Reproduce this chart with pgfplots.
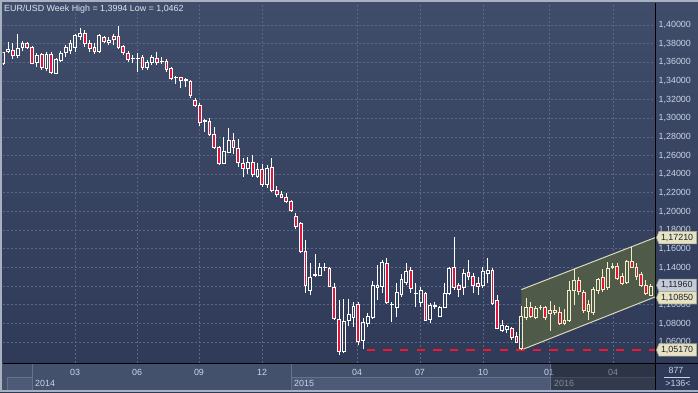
\documentclass[border=0pt]{standalone}
\usepackage{pgfplots}
\pgfplotsset{compat=1.18}
\usepackage{pgfplotstable}
\usepackage{fontspec}
\setmainfont{Liberation Sans}

\definecolor{bgtop}{HTML}{404D6A}
\definecolor{bgbot}{HTML}{2D3957}
\definecolor{gridc}{HTML}{5A6884}
\definecolor{candred}{HTML}{E0143C}
\definecolor{lowred}{HTML}{F01830}
\definecolor{cream}{HTML}{F2EEC8}
\definecolor{chanfill}{HTML}{4F5A48}
\definecolor{chanline}{HTML}{DCD8BC}
\definecolor{lbl}{HTML}{C9D4E8}
\definecolor{barbg}{HTML}{44516D}
\definecolor{barhi}{HTML}{4D5A77}
\definecolor{sepc}{HTML}{66728C}
\definecolor{framec}{HTML}{A9B1C0}
\definecolor{tagcream}{HTML}{E6E2C2}
\definecolor{taggrey}{HTML}{C4CAD6}
\definecolor{tagtext}{HTML}{1E2230}
\definecolor{titlec}{HTML}{DDE4F0}
\definecolor{darkpanel}{HTML}{2E3A57}

% weekly candles: k open high low close
\pgfplotstableread{
k o h l c
0 1.3590 1.3715 1.3575 1.3703
1 1.3721 1.3821 1.3697 1.3743
2 1.3729 1.3804 1.3636 1.3678
3 1.3678 1.3904 1.3643 1.3750
4 1.3757 1.3829 1.3721 1.3800
5 1.3800 1.3822 1.3743 1.3757
6 1.3761 1.3778 1.3579 1.3590
7 1.3597 1.3703 1.3553 1.3678
8 1.3686 1.3697 1.3518 1.3543
9 1.3536 1.3707 1.3507 1.3686
10 1.3686 1.3714 1.3472 1.3489
11 1.3486 1.3650 1.3472 1.3636
12 1.3625 1.3721 1.3607 1.3697
13 1.3707 1.3786 1.3660 1.3757
14 1.3732 1.3839 1.3686 1.3804
15 1.3757 1.3900 1.3714 1.3885
16 1.3875 1.3964 1.3839 1.3911
17 1.3911 1.3946 1.3768 1.3800
18 1.3804 1.3839 1.3714 1.3750
19 1.3761 1.3804 1.3686 1.3714
20 1.3714 1.3900 1.3697 1.3885
21 1.3864 1.3885 1.3804 1.3821
22 1.3814 1.3875 1.3786 1.3839
23 1.3875 1.3900 1.3786 1.3850
24 1.3875 1.3994 1.3750 1.3757
25 1.3768 1.3786 1.3678 1.3703
26 1.3697 1.3721 1.3607 1.3632
27 1.3640 1.3678 1.3590 1.3646
28 1.3638 1.3697 1.3500 1.3646
29 1.3654 1.3678 1.3518 1.3547
30 1.3547 1.3625 1.3518 1.3600
31 1.3600 1.3678 1.3571 1.3654
32 1.3643 1.3707 1.3571 1.3600
33 1.3610 1.3654 1.3582 1.3604
34 1.3607 1.3636 1.3493 1.3525
35 1.3536 1.3553 1.3411 1.3429
36 1.3436 1.3450 1.3368 1.3440
37 1.3436 1.3446 1.3328 1.3411
38 1.3414 1.3429 1.3339 1.3408
39 1.3400 1.3411 1.3221 1.3242
40 1.3193 1.3221 1.3125 1.3135
41 1.3135 1.3161 1.2917 1.2953
42 1.2965 1.2989 1.2857 1.2975
43 1.2971 1.3000 1.2814 1.2829
44 1.2832 1.2911 1.2678 1.2685
45 1.2689 1.2703 1.2500 1.2518
46 1.2518 1.2803 1.2507 1.2642
47 1.2635 1.2893 1.2625 1.2767
48 1.2767 1.2839 1.2614 1.2685
49 1.2678 1.2778 1.2481 1.2529
50 1.2518 1.2578 1.2368 1.2464
51 1.2464 1.2589 1.2400 1.2529
52 1.2529 1.2607 1.2375 1.2400
53 1.2375 1.2525 1.2364 1.2453
54 1.2453 1.2507 1.2267 1.2296
55 1.2293 1.2500 1.2250 1.2464
56 1.2475 1.2571 1.2214 1.2224
57 1.2232 1.2274 1.2160 1.2185
58 1.2185 1.2221 1.2142 1.2153
59 1.2153 1.2196 1.2096 1.2106
60 1.2114 1.2125 1.1999 1.2010
61 1.1953 1.1988 1.1810 1.1838
62 1.1875 1.1892 1.1556 1.1570
63 1.1570 1.1696 1.1124 1.1213
64 1.1152 1.1446 1.1106 1.1296
65 1.1316 1.1546 1.1296 1.1323
66 1.1320 1.1453 1.1310 1.1403
67 1.1400 1.1446 1.1360 1.1406
68 1.1392 1.1410 1.1188 1.1201
69 1.1189 1.1238 1.0838 1.0857
70 1.0846 1.1053 1.0462 1.0506
71 1.0498 1.1060 1.0481 1.0820
72 1.0831 1.1060 1.0774 1.0899
73 1.0867 1.1035 1.0767 1.0988
74 1.1010 1.1035 1.0570 1.0606
75 1.0617 1.0863 1.0524 1.0810
76 1.0803 1.0910 1.0760 1.0874
77 1.0867 1.1260 1.0846 1.1213
78 1.1189 1.1428 1.1053 1.1213
79 1.1201 1.1482 1.1128 1.1453
80 1.1446 1.1500 1.1010 1.1024
81 1.1003 1.1035 1.0820 1.1010
82 1.0974 1.1238 1.0874 1.1131
83 1.1114 1.1331 1.1088 1.1274
84 1.1238 1.1446 1.1213 1.1363
85 1.1367 1.1410 1.1131 1.1178
86 1.1120 1.1231 1.0981 1.1128
87 1.1024 1.1188 1.0981 1.1152
88 1.1124 1.1142 1.0828 1.0838
89 1.0846 1.1017 1.0810 1.0999
90 1.0988 1.1035 1.0960 1.0995
91 1.0881 1.0988 1.0874 1.0974
92 1.0974 1.1238 1.0963 1.1124
93 1.1124 1.1410 1.1106 1.1392
94 1.1403 1.1725 1.1160 1.1189
95 1.1213 1.1231 1.1088 1.1167
96 1.1189 1.1382 1.1106 1.1339
97 1.1346 1.1482 1.1264 1.1310
98 1.1303 1.1346 1.1124 1.1213
99 1.1228 1.1303 1.1106 1.1199
100 1.1213 1.1410 1.1178 1.1356
101 1.1339 1.1500 1.1231 1.1374
102 1.1370 1.1395 1.1003 1.1017
103 1.1045 1.1106 1.0738 1.0749
104 1.0731 1.0838 1.0713 1.0785
105 1.0742 1.0785 1.0696 1.0767
106 1.0749 1.0767 1.0624 1.0653
107 1.0660 1.0713 1.0588 1.0599
}\candA

\pgfplotstableread{
k o h l c
108 1.0535 1.0988 1.0517 1.0881
109 1.0867 1.1071 1.0838 1.0974
110 1.0974 1.1035 1.0856 1.0881
111 1.0867 1.0988 1.0846 1.0963
112 1.0970 1.0995 1.0945 1.0977
113 1.0974 1.0988 1.0838 1.0867
114 1.0910 1.1045 1.0724 1.0945
115 1.0945 1.1000 1.0892 1.0917
116 1.0917 1.0981 1.0785 1.0803
117 1.0803 1.0960 1.0785 1.0838
118 1.0831 1.1260 1.0820 1.1160
119 1.1152 1.1382 1.0999 1.1267
120 1.1260 1.1303 1.1106 1.1142
121 1.1131 1.1160 1.0917 1.0945
122 1.0928 1.1053 1.0838 1.1010
123 1.0917 1.1195 1.0892 1.1167
124 1.1160 1.1289 1.1120 1.1274
125 1.1292 1.1382 1.1142 1.1167
126 1.1189 1.1464 1.1160 1.1392
127 1.1405 1.1446 1.1380 1.1412
128 1.1417 1.1446 1.1267 1.1285
129 1.1303 1.1339 1.1213 1.1231
130 1.1238 1.1482 1.1231 1.1464
131 1.1464 1.1624 1.1392 1.1403
132 1.1403 1.1446 1.1267 1.1310
133 1.1331 1.1356 1.1196 1.1213
134 1.1213 1.1267 1.1106 1.1124
135 1.1106 1.1224 1.1092 1.1196
}\candB

\pgfplotsset{
  common/.style={at={(2.5pt,29pt)}, anchor=south west, scale only axis,
    width=652.5pt, height=360pt, xmin=-0.167, xmax=135.88,
    ymin=1.03773, ymax=1.42358, enlargelimits=false},
}

\newcommand\pricetag[4]{%
  \draw[shift={(#1)}, yshift=#4, draw=#2!75!black, fill=#2, line width=0.6pt]
    (1.5pt,0pt) -- (4pt,6.2pt) -- (41.5pt,6.2pt) -- (41.5pt,-6.2pt) -- (4pt,-6.2pt) -- cycle;
  \node[anchor=west, inner sep=0pt, text=tagtext, yshift=#4] at ([xshift=5.8pt]#1) {#3};%
}

\begin{document}
\begin{tikzpicture}[font=\fontsize{8.9}{10.5}\selectfont]
\useasboundingbox (0pt,0pt) rectangle (698pt,392pt);
\shade[top color=bgtop, bottom color=bgbot] (0pt,0pt) rectangle (698pt,392pt);
% frame
\fill[framec] (0pt,389.5pt) rectangle (698pt,392pt);
\fill[framec] (0pt,0pt) rectangle (2pt,392pt);
\fill[framec] (0pt,0pt) rectangle (698pt,2pt);
% bottom bar
\fill[barbg] (2pt,2pt) rectangle (655pt,29pt);
\fill[barhi] (7pt,2pt) rectangle (32pt,15pt);
\fill[barhi] (291pt,2pt) rectangle (655pt,15pt);
\draw[sepc, line width=0.8pt] (7pt,15pt) -- (32pt,15pt) (7pt,2pt) -- (7pt,15pt);
\draw[sepc, line width=0.8pt] (291pt,15pt) -- (655pt,15pt);
\draw[sepc, line width=0.8pt] (32pt,2pt) -- (32pt,29pt);
\draw[sepc, line width=0.8pt] (291pt,2pt) -- (291pt,29pt);
\draw[sepc, line width=0.8pt] (550pt,2pt) -- (550pt,29pt);
\fill[darkpanel] (655pt,2pt) rectangle (698pt,29pt);
\node[anchor=base west, inner sep=0pt, text=lbl] at (35pt,6pt) {2014};
\node[anchor=base west, inner sep=0pt, text=lbl] at (294pt,6pt) {2015};
\node[anchor=base west, inner sep=0pt, text=lbl] at (554pt,6pt) {2016};

% main axis: grid, labels, channel, wicks
\begin{axis}[common,
  axis x line*=bottom, axis y line*=right,
  axis line style={draw=black, line width=1pt},
  ytick={1.06,1.08,1.10,1.12,1.14,1.16,1.18,1.20,1.22,1.24,1.26,1.28,1.30,1.32,1.34,1.36,1.38,1.40},
  yticklabels={{1,06000},{1,08000},{1,10000},{},{1,14000},{1,16000},{1,18000},{1,20000},{1,22000},{1,24000},{1,26000},{1,28000},{1,30000},{1,32000},{1,34000},{1,36000},{1,38000},{1,40000}},
  y tick label style={text=lbl, anchor=west, inner sep=0pt, xshift=3.5pt},
  xtick={14.95,27.88,40.8,53.94,73.75,86.88,100.02,113.78,127.13},
  xticklabels={03,06,09,12,04,07,10,01,04},
  x tick label style={text=lbl, anchor=base, inner sep=0pt, yshift=-12pt},
  major tick length=0pt,
  grid=major,
  major grid style={draw=gridc, line width=0.9pt, dash pattern=on 2pt off 2pt},
]
% channel
\addplot[fill=chanfill, draw=none, forget plot] coordinates
  {(108,1.0517) (135.88,1.1085) (135.88,1.1721) (108,1.1164) (108,1.0517)};
\addplot[chanline, line width=1pt, forget plot] coordinates {(108,1.0517) (135.88,1.1085)};
\addplot[chanline, line width=1pt, forget plot] coordinates {(108,1.1164) (135.88,1.1721)};
% low line
\addplot[draw=lowred, line width=1.4pt, dash pattern=on 8.3pt off 8.3pt, forget plot]
  coordinates {(75.8,1.0517) (135.88,1.0517)};
% wicks
\addplot[draw=none, mark=none, forget plot, error bars/.cd, y dir=plus, y explicit,
  error mark=none, error bar style={draw=white, line width=1pt, solid}]
  table[x=k, y=l, y error expr={min(\thisrow{o},\thisrow{c})-\thisrow{l}}] \candA;
\addplot[draw=none, mark=none, forget plot, error bars/.cd, y dir=plus, y explicit,
  error mark=none, error bar style={draw=white, line width=1pt, solid}]
  table[x=k, y expr={max(\thisrow{o},\thisrow{c})}, y error expr={\thisrow{h}-max(\thisrow{o},\thisrow{c})}] \candA;
\addplot[draw=none, mark=none, forget plot, error bars/.cd, y dir=plus, y explicit,
  error mark=none, error bar style={draw=cream, line width=1pt, solid}]
  table[x=k, y=l, y error expr={min(\thisrow{o},\thisrow{c})-\thisrow{l}}] \candB;
\addplot[draw=none, mark=none, forget plot, error bars/.cd, y dir=plus, y explicit,
  error mark=none, error bar style={draw=cream, line width=1pt, solid}]
  table[x=k, y expr={max(\thisrow{o},\thisrow{c})}, y error expr={\thisrow{h}-max(\thisrow{o},\thisrow{c})}] \candB;
\coordinate (tA) at (axis cs:135.88,1.1721);
\coordinate (tB) at (axis cs:135.88,1.1196);
\coordinate (tC) at (axis cs:135.88,1.1085);
\coordinate (tD) at (axis cs:135.88,1.0517);
\end{axis}

% bodies, white section
\begin{axis}[common, hide axis, ybar stacked, bar width=2.8pt]
\addplot[draw=none, fill=none] table[x=k, y expr={min(\thisrow{o},\thisrow{c})}] \candA;
\addplot[draw=white, fill=none, line width=0.9pt] table[x=k, y expr={max(\thisrow{c}-\thisrow{o},0)}] \candA;
\addplot[draw=white, fill=candred, line width=0.9pt] table[x=k, y expr={max(\thisrow{o}-\thisrow{c},0)}] \candA;
\end{axis}

% bodies, channel section
\begin{axis}[common, hide axis, ybar stacked, bar width=2.8pt]
\addplot[draw=none, fill=none] table[x=k, y expr={min(\thisrow{o},\thisrow{c})}] \candB;
\addplot[draw=cream, fill=none, line width=0.9pt] table[x=k, y expr={max(\thisrow{c}-\thisrow{o},0)}] \candB;
\addplot[draw=cream, fill=candred, line width=0.9pt] table[x=k, y expr={max(\thisrow{o}-\thisrow{c},0)}] \candB;
\end{axis}

% dimmed part of the date bar
\fill[black, opacity=0.35] (550.5pt,2pt) rectangle (654.5pt,28.5pt);
\draw[black, line width=1pt] (655pt,2pt) -- (655pt,29pt);
\draw[black, line width=1pt] (655pt,29pt) -- (698pt,29pt);

% right panel counters
\node[text=lbl, inner sep=0pt] at (676pt,22pt) {877};
\draw[lbl, line width=0.6pt] (664pt,15pt) -- (690pt,15pt);
\node[text=lbl, inner sep=0pt] at (678pt,8.5pt) {>136<};

% price tags
\pricetag{tB}{taggrey}{1,11960}{1.3pt}
\pricetag{tA}{tagcream}{1,17210}{0pt}
\pricetag{tC}{tagcream}{1,10850}{-0.8pt}
\pricetag{tD}{tagcream}{1,05170}{0pt}

% title
\node[anchor=base west, inner sep=0pt, text=titlec] at (4pt,380.5pt) {EUR/USD Week High = 1,3994 Low = 1,0462};
\end{tikzpicture}
\end{document}
